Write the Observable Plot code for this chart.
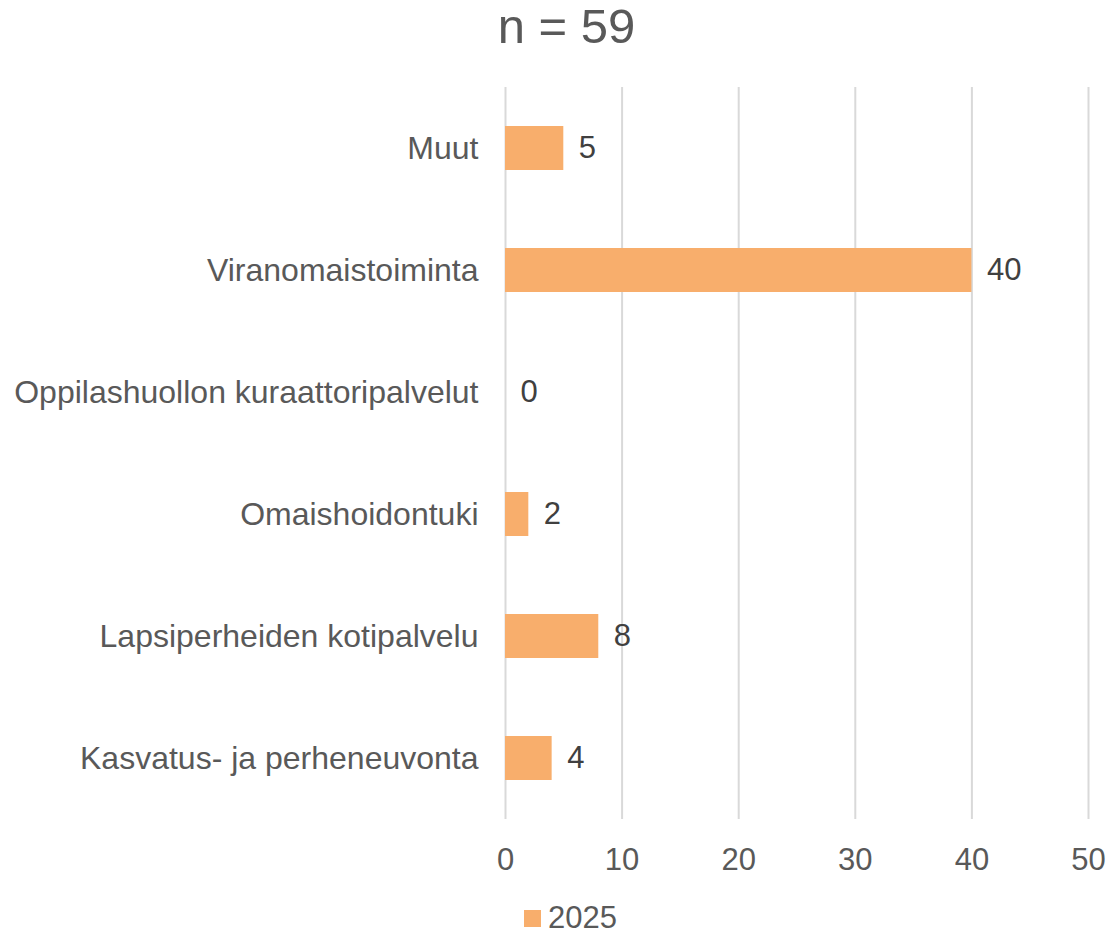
<!DOCTYPE html>
<html>
<head>
<meta charset="utf-8">
<script src="https://cdn.jsdelivr.net/npm/d3@7"></script>
<script src="https://cdn.jsdelivr.net/npm/@observablehq/plot@0.6"></script>
<style>
  html, body { margin: 0; padding: 0; background: #fff; }
  body { width: 1107px; height: 934px; position: relative; font-family: "Liberation Sans", Arial, sans-serif; }
  #title { height: 70px; line-height: 52px; font-size: 49px; color: #595959; text-align: center; padding-left: 26px; box-sizing: border-box; width: 1107px; }
  #legend { position: absolute; top: 903px; left: 524px; height: 30px; display: flex; align-items: center; gap: 7px; font-size: 31px; line-height: 30px; color: #595959; }
  #legend .sw { width: 17px; height: 17px; }
  svg { display: block; }
</style>
</head>
<body>
<div id="title">n = 59</div>
<div id="chart"></div>
<div id="legend"></div>
<script>
const categories = ["Muut", "Viranomaistoiminta", "Oppilashuollon kuraattoripalvelut", "Omaishoidontuki", "Lapsiperheiden kotipalvelu", "Kasvatus- ja perheneuvonta"];
const values2025 = [5, 40, 0, 2, 8, 4];
const xTicks = [0, 10, 20, 30, 40, 50];
const seriesName = "2025";
const barColor = "#F8AE6C";

const data = categories.map((c, i) => ({category: c, value: values2025[i]}));

const chart = Plot.plot({
  width: 1107,
  height: 810,
  marginTop: 17,
  marginBottom: 61,
  marginLeft: 505,
  marginRight: 19,
  style: {fontFamily: "'Liberation Sans', Arial, sans-serif", fontSize: "31px", color: "#595959", background: "white"},
  x: {domain: [0, 50], ticks: xTicks, label: null},
  y: {domain: categories, paddingInner: 0.64, paddingOuter: 0.32, label: null},
  marks: [
    Plot.gridX(xTicks, {stroke: "#d9d9d9", strokeOpacity: 1, strokeWidth: 2}),
    Plot.barX(data, {x: "value", y: "category", fill: barColor}),
    Plot.text(data, {x: "value", y: "category", text: d => String(d.value), dx: 15, textAnchor: "start", fill: "#404040", fontSize: 31}),
    Plot.axisX(xTicks, {tickSize: 0, tickPadding: 28, label: null, fontSize: 31, fill: "#595959"}),
    Plot.axisY({tickSize: 0, tickPadding: 27, label: null, fontSize: 32, fill: "#595959"})
  ]
});
document.getElementById("chart").appendChild(chart);

const legend = document.getElementById("legend");
const sw = document.createElement("div");
sw.className = "sw";
sw.style.background = barColor;
const lab = document.createElement("span");
lab.textContent = seriesName;
legend.appendChild(sw);
legend.appendChild(lab);
</script>
</body>
</html>
